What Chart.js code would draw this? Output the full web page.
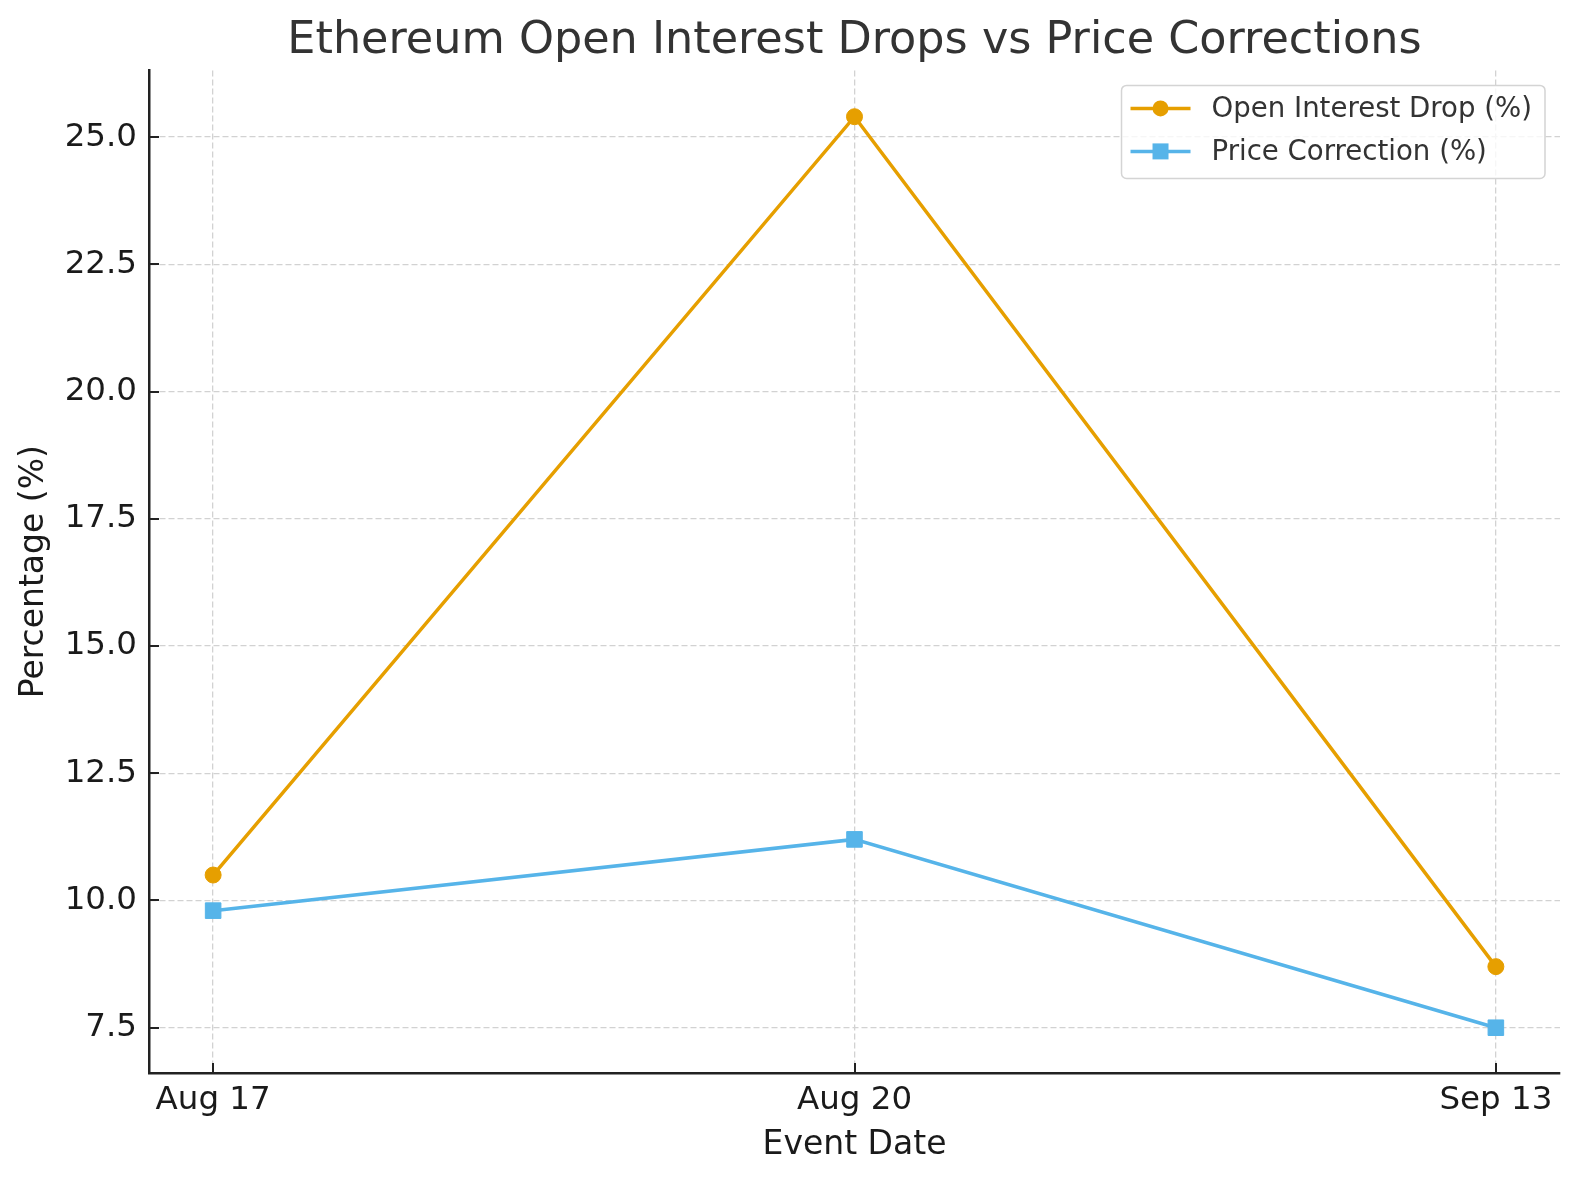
<!DOCTYPE html>
<html>
<head>
<meta charset="utf-8">
<script src="https://cdn.jsdelivr.net/npm/chart.js@4.4.1/dist/chart.umd.min.js"></script>
<style>
    body { margin: 0; background: #fff; }
</style>
</head>
<body>
<canvas id="lineChart" width="1578" height="1180"></canvas>
<script>
// data
var eventDates = ['Aug 17', 'Aug 20', 'Sep 13'];
var openInterestDrop = [10.5, 25.4, 8.7];
var priceCorrection = [9.8, 11.2, 7.5];
var yTicks = [7.5, 10.0, 12.5, 15.0, 17.5, 20.0, 22.5, 25.0];

var ORANGE = '#E69F00';
var BLUE = '#56B4E9';
var FONT = '"DejaVu Sans", sans-serif';

function toPoints(values) {
    return values.map(function (v, i) {
        return {x: i, y: v};
    });
}

// matplotlib style ticks that point into the plot
var innerTicks = {
    id: 'innerTicks',
    afterDatasetsDraw: function (chart) {
        var ctx = chart.ctx;
        var xs = chart.scales.x, ys = chart.scales.y;
        ctx.save();
        ctx.strokeStyle = '#222';
        ctx.lineWidth = 2;
        ctx.beginPath();
        xs.ticks.forEach(function (t) {
            var px = Math.round(xs.getPixelForValue(t.value));
            ctx.moveTo(px, ys.bottom);
            ctx.lineTo(px, ys.bottom - 10);
        });
        ys.ticks.forEach(function (t) {
            var py = Math.round(ys.getPixelForValue(t.value));
            ctx.moveTo(xs.left, py);
            ctx.lineTo(xs.left + 10, py);
        });
        ctx.stroke();
        ctx.restore();
    }
};

// legend in a rounded box, upper right of the plot
var boxLegend = {
    id: 'boxLegend',
    afterDraw: function (chart) {
        var ctx = chart.ctx;
        var area = chart.chartArea;
        var sets = chart.data.datasets;
        ctx.save();
        ctx.font = '27.6px ' + FONT;
        var textW = 0;
        sets.forEach(function (ds) {
            textW = Math.max(textW, ctx.measureText(ds.label).width);
        });
        var w = textW + 103, h = 93;
        var left = area.right - 15 - w, top = area.top + 15;

        ctx.beginPath();
        ctx.roundRect(left, top, w, h, 5);
        ctx.fillStyle = 'rgba(255,255,255,0.8)';
        ctx.fill();
        ctx.strokeStyle = '#d4d4d4';
        ctx.lineWidth = 1.5;
        ctx.stroke();

        sets.forEach(function (ds, i) {
            var y = top + 23 + i * 43;
            ctx.strokeStyle = ds.borderColor;
            ctx.lineWidth = 3.5;
            ctx.beginPath();
            ctx.moveTo(left + 9, y);
            ctx.lineTo(left + 69, y);
            ctx.stroke();
            ctx.fillStyle = ds.borderColor;
            ctx.beginPath();
            if (ds.pointStyle === 'rect') {
                ctx.rect(left + 31, y - 8, 16, 16);
            } else {
                ctx.arc(left + 39, y, 8, 0, Math.PI * 2);
            }
            ctx.fill();
            ctx.fillStyle = '#333';
            ctx.textBaseline = 'middle';
            ctx.fillText(ds.label, left + 90, y + 1);
        });
        ctx.restore();
    }
};

Chart.defaults.font.family = FONT;
Chart.defaults.color = '#1a1a1a';

var ctxL = document.getElementById('lineChart').getContext('2d');
var myLineChart = new Chart(ctxL, {
    type: 'line',
    data: {
        datasets: [{
            label: 'Open Interest Drop (%)',
            data: toPoints(openInterestDrop),
            borderColor: ORANGE,
            backgroundColor: ORANGE,
            borderWidth: 3.5,
            pointStyle: 'circle',
            pointRadius: 8,
            pointBorderWidth: 1,
            tension: 0
        }, {
            label: 'Price Correction (%)',
            data: toPoints(priceCorrection),
            borderColor: BLUE,
            backgroundColor: BLUE,
            borderWidth: 3.5,
            pointStyle: 'rect',
            pointRadius: 11,
            pointBorderWidth: 1,
            tension: 0
        }]
    },
    options: {
        responsive: false,
        animation: false,
        layout: {padding: {top: 0, right: 18, bottom: 0, left: 0}},
        plugins: {
            legend: {display: false},
            tooltip: {enabled: false},
            title: {
                display: true,
                text: 'Ethereum Open Interest Drops vs Price Corrections',
                fullSize: false,
                color: '#333',
                font: {size: 44.5, weight: 'normal'},
                padding: {top: 15, bottom: 2}
            }
        },
        scales: {
            x: {
                type: 'linear',
                min: -0.1,
                max: 2.1,
                afterBuildTicks: function (scale) {
                    scale.ticks = eventDates.map(function (d, i) {
                        return {value: i};
                    });
                },
                afterFit: function (scale) {
                    scale.height = 107;
                },
                ticks: {
                    padding: 8,
                    maxRotation: 0,
                    font: {size: 32.5},
                    callback: function (value) {
                        return eventDates[value];
                    }
                },
                grid: {color: '#d2d2d2', lineWidth: 1.3, drawTicks: false},
                border: {display: true, color: '#222', width: 2.5, dash: [6, 3]},
                title: {
                    display: true,
                    text: 'Event Date',
                    font: {size: 33},
                    padding: {top: 4, bottom: 15}
                }
            },
            y: {
                min: 6.61,
                max: 26.31,
                afterBuildTicks: function (scale) {
                    scale.ticks = yTicks.map(function (v) {
                        return {value: v};
                    });
                },
                afterFit: function (scale) {
                    scale.width = 149;
                },
                ticks: {
                    padding: 12,
                    font: {size: 32.5},
                    callback: function (value) {
                        return value.toFixed(1);
                    }
                },
                grid: {color: '#d2d2d2', lineWidth: 1.3, drawTicks: false},
                border: {display: true, color: '#222', width: 2.5, dash: [6, 3]},
                title: {
                    display: true,
                    text: 'Percentage (%)',
                    font: {size: 33},
                    padding: {top: 15, bottom: 0}
                }
            }
        }
    },
    plugins: [innerTicks, boxLegend]
});
</script>
</body>
</html>
